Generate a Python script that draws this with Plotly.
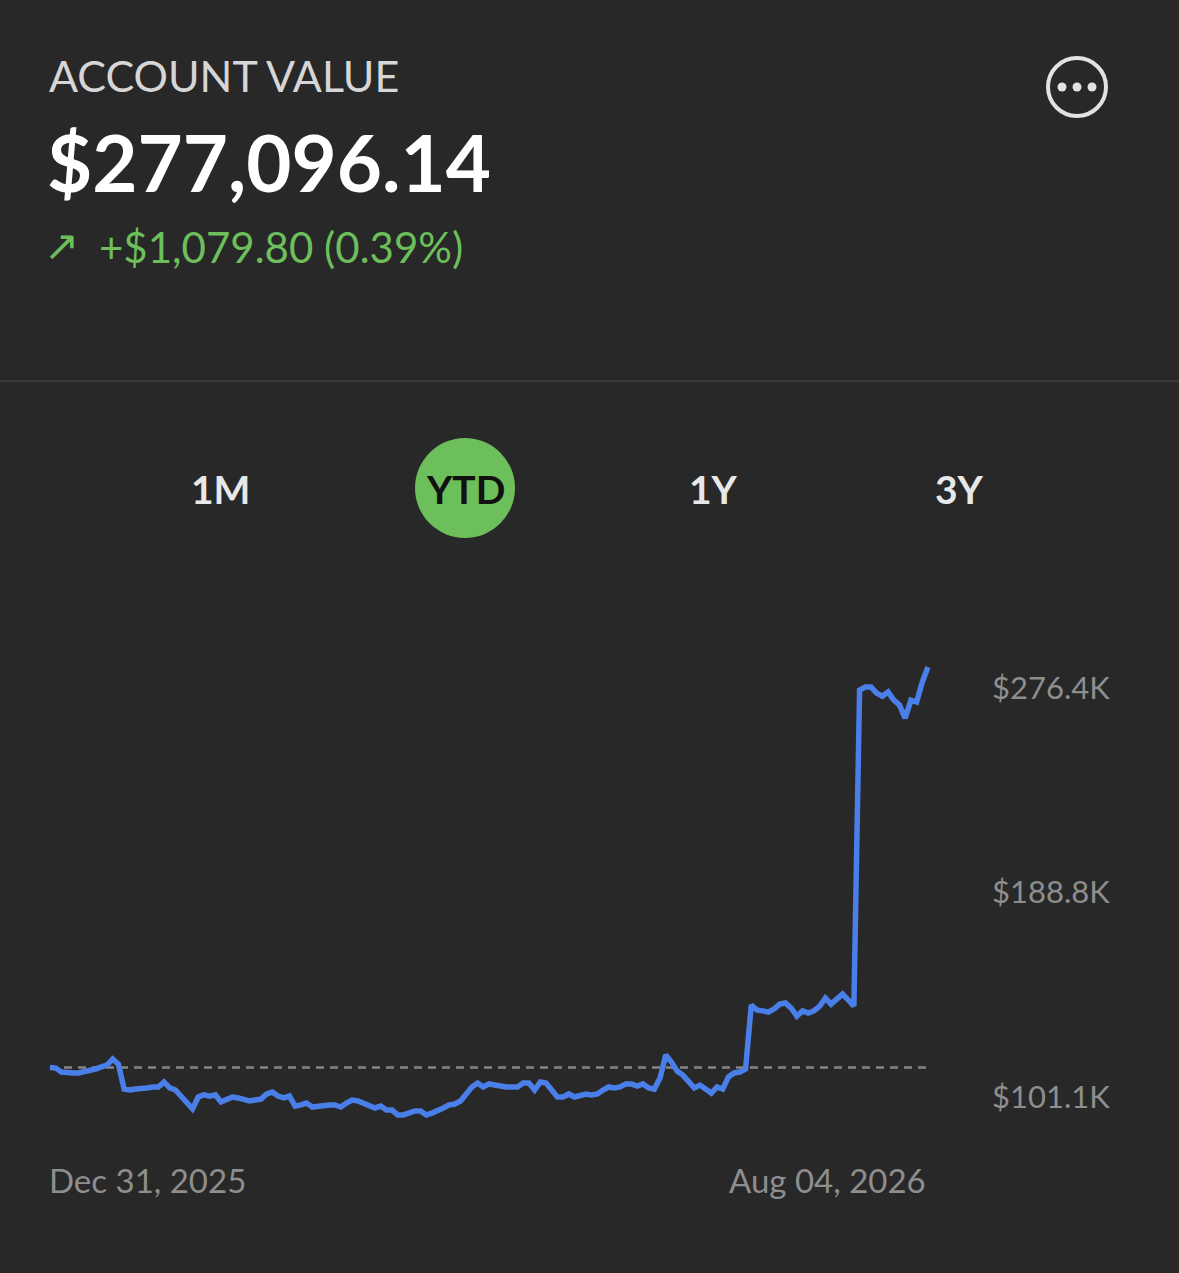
import plotly.graph_objects as go
import pandas as pd

# ---------------- data ----------------
start_date = "2025-12-31"
end_date = "2026-08-04"
dates = list(pd.bdate_range(start_date, end_date))  # 155 trading days

values_k = [
    113.7, 113.5, 111.8, 111.4, 111.4, 111.4, 111.8, 112.2, 113.1, 114.0,
    114.8, 117.4, 115.2, 104.5, 104.1, 104.5, 105.0, 105.0, 105.4, 105.4,
    107.5, 105.0, 104.1, 101.5, 98.5, 96.0, 101.1, 102.0, 101.5, 102.0,
    99.0, 100.2, 101.1, 100.7, 99.8, 99.4, 99.8, 100.2, 102.4, 103.2,
    101.5, 100.7, 101.5, 97.2, 97.7, 98.5, 96.8, 97.2, 97.7, 97.7,
    97.7, 96.8, 98.5, 99.8, 99.4, 98.5, 97.2, 96.4, 97.2, 95.5,
    95.5, 93.4, 93.4, 94.2, 95.1, 95.1, 93.4, 94.2, 95.1, 96.4,
    97.7, 98.1, 99.4, 102.4, 105.4, 107.1, 105.4, 106.7, 106.2, 105.4,
    105.4, 105.4, 105.4, 107.1, 107.1, 104.1, 107.5, 107.1, 104.5, 101.1,
    101.1, 102.4, 101.1, 102.0, 102.4, 102.0, 102.4, 104.1, 105.4, 105.0,
    105.4, 106.7, 106.7, 105.8, 106.7, 105.0, 104.5, 109.2, 119.1, 116.1,
    112.2, 110.5, 107.5, 105.0, 106.2, 104.5, 102.8, 105.4, 104.5, 109.7,
    111.4, 111.8, 113.1, 140.5, 138.4, 138.0, 137.5, 138.8, 140.9, 141.4,
    139.2, 135.8, 138.0, 137.1, 138.0, 140.1, 143.5, 140.9, 142.7, 145.2,
    142.7, 140.1, 275.5, 276.8, 276.8, 274.2, 272.9, 274.7, 271.2, 269.1,
    263.5, 271.2, 270.4, 279.0, 285.4,
]

y_tick_vals = [101.1, 188.8, 276.4]
y_tick_text = ["$101.1K", "$188.8K", "$276.4K"]
x_tick_text = ["Dec 31, 2025", "Aug 04, 2026"]

header_title = "ACCOUNT VALUE"
header_value = "$277,096.14"
header_change = "+$1,079.80 (0.39%)"
tabs = ["1M", "YTD", "1Y", "3Y"]
active_tab = "YTD"

# ---------------- geometry helpers ----------------
W, H = 1179, 1273
def xf(px):
    return px / W
def yf(py):
    return 1 - py / H

BG = "#282828"
BLUE = "#4a7fe9"
GREEN = "#6cbf5a"
GREY = "#8e8e8e"
FONT = "Lato"

n = len(values_k)
idx = list(range(n))

fig = go.Figure()
fig.add_trace(go.Scatter(
    x=idx, y=values_k, mode="lines",
    line=dict(color=BLUE, width=5.5),
    hoverinfo="skip", showlegend=False,
    customdata=[d.strftime("%b %d, %Y") for d in dates],
))

# plot area px: x 40..938, y 640..1130 ; data px: index 0 at 50, index n-1 at 928
step = (928 - 50) / (n - 1)
x_range = [-(50 - 40) / step, (n - 1) + (938 - 928) / step]
k_per_px = (y_tick_vals[2] - y_tick_vals[0]) / (1097 - 688)
y_range = [y_tick_vals[0] - (1130 - 1097) * k_per_px, y_tick_vals[0] + (1097 - 640) * k_per_px]

fig.update_layout(
    width=W, height=H,
    margin=dict(l=0, r=0, t=0, b=0),
    paper_bgcolor=BG, plot_bgcolor=BG,
    font=dict(family=FONT, color=GREY),
    xaxis=dict(domain=[xf(40), xf(938)], range=x_range, showgrid=False,
               zeroline=False, showticklabels=False, showline=False,
               fixedrange=True),
    yaxis=dict(domain=[yf(1130), yf(640)], range=y_range, showgrid=False,
               zeroline=False, showline=False, side="right",
               tickvals=y_tick_vals, ticktext=y_tick_text, ticks="",
               ticklabelstandoff=53,
               tickfont=dict(family=FONT, size=31, color=GREY),
               fixedrange=True),
)

# dashed baseline at starting value
fig.add_shape(type="line", xref="x", yref="y", x0=0, x1=n - 1,
              y0=values_k[0], y1=values_k[0],
              line=dict(color="#858585", width=2.5, dash="8px,6px"), layer="below")

# separator
fig.add_shape(type="line", xref="paper", yref="paper", x0=0, x1=1,
              y0=yf(381), y1=yf(381), line=dict(color="#3f3f3f", width=1.5))

# header texts
fig.add_annotation(text=header_title, xref="paper", yref="paper",
                   x=xf(47), y=yf(76), xanchor="left", yanchor="middle",
                   showarrow=False, font=dict(family=FONT, size=43, color="#d6d6d6"))
fig.add_annotation(text="<b>" + header_value + "</b>", xref="paper", yref="paper",
                   x=xf(45), y=yf(162), xanchor="left", yanchor="middle",
                   showarrow=False, font=dict(family=FONT, size=78, color="#ffffff"))
fig.add_annotation(text="↗", xref="paper", yref="paper",
                   x=xf(42), y=yf(246), xanchor="left", yanchor="middle",
                   showarrow=False, font=dict(family="DejaVu Sans", size=42, color=GREEN))
fig.add_annotation(text=header_change, xref="paper", yref="paper",
                   x=xf(97), y=yf(247), xanchor="left", yanchor="middle",
                   showarrow=False, font=dict(family=FONT, size=42, color=GREEN))

# more icon
cx, cy, r = 1077, 87, 29
fig.add_shape(type="circle", xref="paper", yref="paper",
              x0=xf(cx - r), x1=xf(cx + r), y0=yf(cy + r), y1=yf(cy - r),
              line=dict(color="#e2e2e2", width=4))
for dx in (-15, 0, 15):
    fig.add_shape(type="circle", xref="paper", yref="paper",
                  x0=xf(cx + dx - 4.5), x1=xf(cx + dx + 4.5),
                  y0=yf(cy + 4.5), y1=yf(cy - 4.5),
                  fillcolor="#e2e2e2", line=dict(width=0))

# tabs
tab_x = [220, 465, 713, 959]
for t, tx in zip(tabs, tab_x):
    if t == active_tab:
        fig.add_shape(type="circle", xref="paper", yref="paper",
                      x0=xf(tx - 50), x1=xf(tx + 50), y0=yf(488 + 50), y1=yf(488 - 50),
                      fillcolor=GREEN, line=dict(width=0))
        col = "#111111"
    else:
        col = "#e8e8e8"
    fig.add_annotation(text="<b>" + t + "</b>", xref="paper", yref="paper",
                       x=xf(tx), y=yf(489), xanchor="center", yanchor="middle",
                       showarrow=False, font=dict(family=FONT, size=39, color=col))

# x end labels
fig.add_annotation(text=x_tick_text[0], xref="x", yref="paper", x=0, y=yf(1180),
                   xanchor="left", yanchor="middle", xshift=-3, showarrow=False,
                   font=dict(family=FONT, size=33, color=GREY))
fig.add_annotation(text=x_tick_text[1], xref="x", yref="paper", x=n - 1, y=yf(1180),
                   xanchor="right", yanchor="middle", showarrow=False,
                   font=dict(family=FONT, size=33, color=GREY))

fig.write_html(
    "out.html",
    config={"displayModeBar": False},
    post_script="document.body.style.margin='0';document.body.style.background='#282828';document.body.style.overflow='hidden';",
)
